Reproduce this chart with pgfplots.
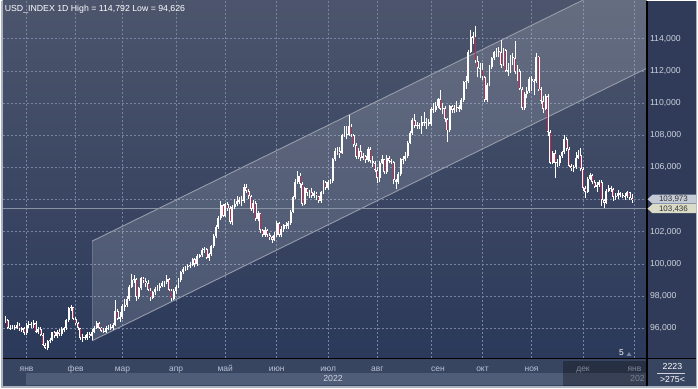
\documentclass[border=0pt]{standalone}
\usepackage{fontspec}
\setmainfont{Liberation Sans}
\usepackage{pgfplots}
\usepackage{pgfplotstable}
\pgfplotsset{compat=1.18}
\definecolor{bgtop}{RGB}{76,85,108}
\definecolor{bgbot}{RGB}{43,57,90}
\definecolor{panel}{RGB}{47,59,88}
\definecolor{strip}{RGB}{56,69,97}
\definecolor{band}{RGB}{80,93,121}
\definecolor{frameg}{RGB}{170,178,192}
\definecolor{gridc}{RGB}{118,132,162}
\definecolor{chan}{RGB}{150,156,170}
\definecolor{candred}{RGB}{185,45,85}
\definecolor{lblc}{RGB}{205,210,222}
\definecolor{monc}{RGB}{185,194,212}
\definecolor{tagA}{RGB}{196,202,214}
\definecolor{tagB}{RGB}{218,220,200}
\definecolor{lastline}{RGB}{138,147,166}

\pgfplotstableread{
i o h l c
-9 96.60 96.75 96.35 96.50
-8 96.50 96.60 95.95 96.05
-7 96.00 96.20 95.90 96.05
-6 96.05 96.20 95.95 96.10
-5 96.10 96.20 95.90 96.05
-4 96.05 96.40 95.95 96.20
-3 96.20 96.30 95.85 95.95
-2 95.90 96.10 95.80 96.00
-1 96.00 96.10 95.60 95.70
0 95.70 96.30 95.60 96.20
1 96.20 96.45 96.05 96.25
2 96.25 96.40 96.00 96.20
3 96.20 96.50 96.05 96.35
4 96.35 96.45 95.70 95.75
5 95.75 96.10 95.65 95.95
6 95.95 96.10 95.50 95.60
7 95.60 95.70 94.90 94.95
8 94.95 95.10 94.70 94.80
9 94.80 95.30 94.63 95.20
10 95.20 95.40 95.10 95.30
11 95.30 95.80 95.20 95.75
12 95.75 95.85 95.40 95.50
13 95.50 95.90 95.40 95.80
14 95.80 95.95 95.55 95.65
15 95.65 96.10 95.55 95.95
16 95.90 96.10 95.80 96.00
17 96.00 96.60 95.90 96.50
18 96.50 97.35 96.40 97.25
19 97.25 97.44 97.10 97.30
20 97.30 97.35 96.50 96.60
21 96.60 96.70 96.20 96.30
22 96.30 96.40 95.90 96.00
23 96.00 96.05 95.30 95.40
24 95.40 95.65 95.15 95.45
25 95.45 95.60 95.30 95.40
26 95.40 95.75 95.30 95.65
27 95.65 95.75 95.40 95.50
28 95.50 95.95 95.25 95.80
29 95.80 96.15 95.70 96.05
30 96.05 96.45 95.95 96.35
31 96.35 96.40 95.95 96.05
32 96.05 96.10 95.75 95.85
33 95.85 96.00 95.70 95.80
34 95.80 96.15 95.70 96.05
35 96.00 96.20 95.90 96.05
36 96.10 96.25 95.90 96.00
37 96.00 96.30 95.90 96.20
38 96.20 97.75 96.15 97.10
39 97.10 97.20 96.50 96.60
40 96.60 97.00 96.40 96.70
41 96.70 97.50 96.60 97.40
42 97.35 97.80 97.10 97.45
43 97.45 98.00 97.35 97.80
44 97.80 98.70 97.70 98.60
45 98.60 99.40 98.50 99.00
46 99.00 99.30 98.80 99.05
47 99.05 99.10 97.70 97.95
48 97.95 98.60 97.80 98.50
49 98.50 99.20 98.40 99.10
50 99.10 99.20 98.80 98.95
51 98.95 99.10 98.60 98.80
52 98.80 99.00 98.30 98.40
53 98.40 98.50 97.70 97.90
54 97.90 98.35 97.80 98.25
55 98.25 98.60 98.10 98.45
56 98.45 98.70 98.30 98.50
57 98.50 98.80 98.35 98.65
58 98.65 98.95 98.55 98.80
59 98.75 98.95 98.60 98.85
60 98.85 99.30 98.75 99.05
61 99.05 99.15 98.30 98.40
62 98.40 98.45 97.70 97.85
63 97.85 98.45 97.75 98.30
64 98.30 98.70 98.15 98.60
65 98.60 99.10 98.50 99.00
66 99.00 99.55 98.90 99.50
67 99.50 99.80 99.40 99.70
68 99.70 99.90 99.55 99.80
69 99.80 100.00 99.60 99.85
70 99.85 100.10 99.75 99.95
71 99.95 100.40 99.85 100.30
72 100.30 100.40 99.80 100.00
73 100.00 100.60 99.90 100.50
74 100.45 100.65 100.35 100.55
75 100.55 101.00 100.45 100.90
76 100.90 101.05 100.70 100.95
77 100.95 101.00 100.30 100.40
78 100.40 100.70 100.20 100.60
79 100.60 101.20 100.50 101.10
80 101.10 101.85 101.00 101.75
81 101.75 102.40 101.60 102.30
82 102.30 103.00 102.20 102.85
83 102.85 103.90 102.75 103.65
84 103.65 103.75 102.90 103.00
85 103.00 103.80 102.90 103.70
86 103.70 103.85 103.30 103.45
87 103.45 103.60 102.50 102.60
88 102.60 103.65 102.40 103.55
89 103.55 104.05 103.40 103.70
90 103.70 104.20 103.60 103.90
91 103.85 104.15 103.70 103.95
92 103.95 104.20 103.60 103.90
93 103.90 104.95 103.80 104.80
94 104.80 105.00 104.40 104.55
95 104.55 104.65 104.05 104.20
96 104.20 104.30 103.30 103.40
97 103.40 103.95 103.20 103.80
98 103.80 103.90 102.70 102.80
99 102.80 103.30 102.65 103.15
100 103.15 103.20 101.95 102.10
101 102.10 102.20 101.65 101.80
102 101.80 102.30 101.70 102.10
103 102.10 102.20 101.70 101.80
104 101.80 101.90 101.50 101.65
105 101.65 101.75 101.30 101.50
106 101.50 102.00 101.40 101.80
107 101.80 102.70 101.70 102.55
108 102.55 102.60 101.70 101.80
109 101.80 102.35 101.65 102.15
110 102.15 102.50 102.00 102.40
111 102.40 102.60 102.20 102.35
112 102.35 102.70 102.20 102.55
113 102.55 103.35 102.45 103.25
114 103.25 104.25 103.15 104.15
115 104.15 105.30 104.05 105.10
116 105.10 105.79 105.00 105.50
117 105.50 105.65 104.70 105.00
118 105.00 105.10 103.60 103.75
119 103.75 104.80 103.65 104.70
120 104.70 104.75 104.25 104.40
121 104.40 104.60 104.10 104.45
122 104.45 104.70 104.10 104.20
123 104.20 104.55 104.10 104.40
124 104.40 104.50 104.00 104.20
125 104.20 104.25 103.80 103.90
126 103.90 104.55 103.80 104.45
127 104.45 105.20 104.35 105.10
128 105.10 105.15 104.60 104.70
129 104.70 105.20 104.60 105.10
130 105.05 105.30 104.95 105.15
131 105.15 106.60 105.05 106.50
132 106.50 107.20 106.40 107.00
133 106.95 107.25 106.80 107.05
134 107.05 107.30 106.60 106.90
135 106.90 108.10 106.85 108.00
136 108.00 108.55 107.90 108.10
137 108.10 108.60 107.75 108.00
138 108.00 109.29 107.95 108.60
139 108.60 108.70 107.90 108.00
140 108.00 108.10 107.30 107.40
141 107.40 107.50 106.55 106.65
142 106.65 107.20 106.50 107.00
143 107.00 107.40 106.40 106.60
144 106.60 106.90 106.45 106.70
145 106.70 106.80 106.30 106.45
146 106.45 107.25 106.35 107.15
147 107.15 107.30 106.30 106.40
148 106.40 106.70 106.05 106.30
149 106.30 106.40 105.70 105.85
150 105.85 106.00 105.05 105.35
151 105.35 106.40 105.10 106.30
152 106.30 106.80 106.20 106.50
153 106.50 106.55 105.60 105.70
154 105.70 106.80 105.60 106.60
155 106.60 106.70 106.30 106.40
156 106.40 106.50 106.20 106.35
157 106.35 106.40 104.95 105.20
158 105.20 105.30 104.64 105.10
159 105.10 105.70 105.00 105.60
160 105.60 106.60 105.50 106.55
161 106.55 106.70 106.20 106.50
162 106.50 106.95 106.40 106.70
163 106.70 107.65 106.60 107.55
164 107.55 108.25 107.45 108.15
165 108.15 109.05 108.05 108.95
166 108.95 109.30 108.45 108.60
167 108.55 108.80 108.40 108.65
168 108.65 108.75 108.40 108.55
169 108.55 109.20 108.10 108.80
170 108.85 109.45 108.60 108.75
171 108.75 109.10 108.40 108.80
172 108.80 109.00 108.55 108.70
173 108.70 109.75 108.60 109.65
174 109.65 110.00 109.40 109.55
175 109.55 110.10 109.45 109.80
176 109.80 110.35 109.70 110.25
177 110.25 110.79 109.55 109.65
178 109.65 110.00 109.30 109.70
179 109.70 109.80 108.80 109.00
180 109.00 109.10 107.60 108.30
181 108.30 109.90 108.20 109.80
182 109.80 109.90 109.40 109.60
183 109.60 109.90 109.40 109.70
184 109.70 110.15 109.45 109.75
185 109.75 109.90 109.45 109.65
186 109.65 110.30 109.55 110.20
187 110.20 111.40 110.10 111.30
188 111.30 111.70 110.90 111.35
189 111.35 113.30 111.25 113.20
190 113.20 114.55 113.10 114.10
191 114.05 114.40 113.65 114.15
192 114.15 114.79 112.50 112.60
193 112.60 112.95 111.60 112.20
194 112.20 112.50 111.55 112.10
195 112.10 112.50 111.45 111.60
196 111.60 111.70 110.05 110.20
197 110.20 111.25 110.10 111.15
198 111.15 112.35 111.05 112.25
199 112.25 112.90 112.15 112.80
200 112.80 113.25 112.70 113.15
201 113.15 113.40 112.90 113.20
202 113.25 113.50 112.90 113.15
203 113.15 113.92 112.20 112.40
204 112.40 113.40 112.30 113.30
205 113.30 113.35 111.95 112.00
206 112.05 112.50 111.70 111.95
207 111.95 113.00 111.85 112.90
208 112.90 113.10 112.40 112.80
209 112.80 113.88 111.80 111.95
210 111.90 112.40 111.40 112.00
211 112.00 112.10 110.80 110.90
212 110.90 111.00 109.55 109.70
213 109.70 110.70 109.60 110.60
214 110.60 111.00 110.30 110.75
215 110.75 111.60 110.65 111.50
216 111.50 111.70 110.75 111.40
217 111.40 111.50 110.50 111.35
218 111.35 113.10 111.25 112.90
219 112.90 112.95 110.75 110.85
220 110.85 111.00 109.95 110.15
221 110.15 110.45 109.40 109.65
222 109.65 110.55 109.55 110.45
223 110.45 110.60 107.95 108.20
224 108.20 108.30 106.20 106.30
225 106.30 107.00 106.20 106.90
226 106.90 107.10 105.35 106.30
227 106.35 106.50 106.05 106.25
228 106.25 106.80 106.10 106.70
229 106.70 107.05 106.60 106.95
230 106.95 107.99 106.85 107.80
231 107.80 107.90 107.05 107.15
232 107.15 107.25 106.00 106.10
233 106.10 106.20 105.80 105.95
234 105.95 106.15 105.70 106.00
235 106.00 106.95 105.90 106.60
236 106.60 107.10 106.50 106.80
237 106.80 107.20 105.80 105.90
238 105.90 106.00 104.55 104.70
239 104.70 104.85 104.10 104.50
240 104.50 105.40 104.40 105.30
241 105.30 105.65 105.20 105.55
242 105.55 105.60 104.95 105.10
243 105.10 105.20 104.70 104.80
244 104.80 105.10 104.50 104.90
245 104.90 105.20 104.80 105.10
246 105.10 105.20 103.60 104.00
247 104.00 104.05 103.45 103.80
248 103.80 104.65 103.70 104.55
249 104.55 104.90 104.45 104.70
250 104.75 104.85 104.50 104.65
251 104.65 104.70 103.90 104.15
252 104.15 104.40 104.00 104.20
253 104.20 104.60 104.05 104.40
254 104.40 104.50 104.15 104.30
255 104.30 104.40 104.10 104.25
256 104.25 104.40 104.00 104.20
257 104.20 104.55 104.10 104.45
258 104.45 104.50 103.95 104.10
259 104.10 104.35 103.80 103.97
}\dxy

\begin{document}
\begin{tikzpicture}[x=1bp,y=1bp]
\fill[panel] (0,0) rectangle (698,388);
\fill[strip] (0,0) rectangle (698,30);
\fill[band] (25,3) rectangle (647,15);
\begin{axis}[
  at={(2bp,30bp)}, anchor=south west,
  scale only axis, width=645bp, height=358bp,
  xmin=-10.25, xmax=265.16, ymin=94.155, ymax=116.377,
  axis line style={draw=none},
  major tick length=0pt,
  axis background/.style={top color=bgtop, bottom color=bgbot},
  xtick={0,21,41,64,85,107,129,150,173,195,216,238,260},
  xticklabels={янв,фев,мар,апр,май,июн,июл,авг,\hspace*{14bp}сен,окт,ноя,дек,янв},
  ytick={96,98,100,102,106,108,110,112,114},
  extra y ticks={104},
  extra y tick labels={},
  extra y tick style={grid=major},
  yticklabel pos=right,
  grid=major,
  grid style={draw=gridc, line width=0.7bp, dash pattern=on 2bp off 2bp},
  xticklabel style={font=\fontsize{8.5}{9}\selectfont, text=monc, anchor=center, yshift=-10bp, text height=1.5ex, text depth=0.3ex},
  yticklabel style={font=\fontsize{8.7}{9}\selectfont, text=lblc, anchor=west,
    /pgf/number format/fixed, /pgf/number format/fixed zerofill,
    /pgf/number format/precision=3, /pgf/number format/use comma,
    /pgf/number format/assume math mode=true},
]
% channel
\addplot[draw=none, fill=white, fill opacity=0.14, forget plot]
  coordinates {(28.05,95.23) (265.16,112.16) (265.16,118.35) (28.05,101.42)} -- cycle;
\addplot[draw=chan, line width=0.9bp, forget plot] coordinates {(28.05,95.23) (265.16,112.16)};
\addplot[draw=chan, line width=0.9bp, forget plot] coordinates {(28.05,101.42) (265.16,118.35)};
\addplot[draw=white, draw opacity=0.15, line width=0.8bp, forget plot] coordinates {(28.05,95.23) (28.05,101.42)};
% last level line
\addplot[draw=lastline, line width=0.9bp, forget plot] coordinates {(-10.25,103.436) (265.16,103.436)};
% wicks
\addplot[draw=none, mark=none, forget plot,
  error bars/.cd, y dir=plus, y explicit, error mark=none,
  error bar style={draw=white, line width=0.8bp}]
  table[x=i, y=l, y error plus expr={\thisrow{h}-\thisrow{l}}] {\dxy};
% bodies
\addplot[draw=none, mark=none, forget plot,
  error bars/.cd, y dir=plus, y explicit, error mark=none,
  error bar style={draw=white, line width=1.9bp}]
  table[x=i, y expr={min(\thisrow{o},\thisrow{c})}, y error plus expr={abs(\thisrow{c}-\thisrow{o})}] {\dxy};
% bearish fill
\addplot[draw=none, mark=none, forget plot,
  error bars/.cd, y dir=plus, y explicit, error mark=none,
  error bar style={draw=candred, line width=0.9bp}]
  table[x=i, y expr={\thisrow{c}+0.06}, y error plus expr={max(\thisrow{o}-\thisrow{c}-0.12,0)}] {\dxy};
\end{axis}
% separators and frame
\draw[black, line width=1.2bp] (647.5,0) -- (647.5,388);
\draw[black, line width=1.2bp] (0,29.5) -- (698,29.5);
\fill[black, opacity=0.3] (563,2) rectangle (647,27);
\fill[frameg] (0,0) rectangle (2,388);
\fill[frameg] (0,0) rectangle (698,2);
\fill[frameg] (697,0) rectangle (698,388);
% title
\node[anchor=west, text=white, inner sep=0pt, font=\fontsize{8.8}{10}\selectfont] at (4,379.5) {USD\_INDEX 1D High = 114,792 Low = 94,626};
% year
\node[text=lblc, inner sep=0pt, font=\fontsize{8.8}{10}\selectfont] at (333,9) {2022};
\node[text=lblc, inner sep=0pt, font=\fontsize{8.8}{10}\selectfont, opacity=0.45] at (638,9) {202};
% bottom right box
\node[text=white, inner sep=0pt, font=\fontsize{8.8}{10}\selectfont] at (673,21) {2223};
\draw[lblc, line width=0.6bp] (658,15) -- (686,15);
\node[text=white, inner sep=0pt, font=\fontsize{8.8}{10}\selectfont] at (673,8) {>275<};
% misc
\node[text=white, inner sep=0pt, font=\fontsize{8.5}{10}\selectfont] at (622,35) {5};
\fill[gridc] (627,32) -- (632,32) -- (629.5,36) -- cycle;
% price tags
\fill[tagA] (648,189) -- (653,193.6) -- (697,193.6) -- (697,184.6) -- (653,184.6) -- cycle;
\node[text=black!80, inner sep=0pt, font=\fontsize{8}{9}\selectfont] at (674,189.3) {103,973};
\fill[tagB] (648,179.6) -- (653,184.2) -- (697,184.2) -- (697,175) -- (653,175) -- cycle;
\node[text=black!80, inner sep=0pt, font=\fontsize{8}{9}\selectfont] at (674,179.4) {103,436};
\end{tikzpicture}
\end{document}
